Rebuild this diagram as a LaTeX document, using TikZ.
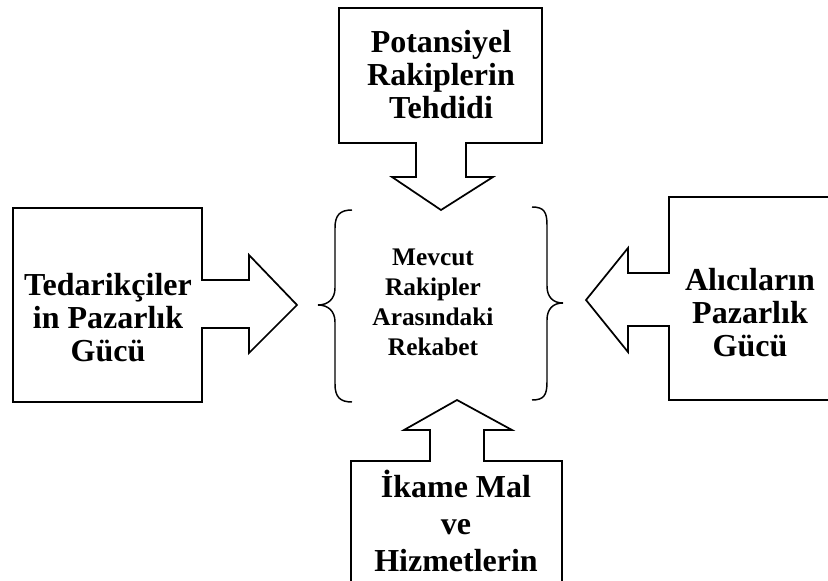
\documentclass[tikz,border=0pt]{standalone}
\usepackage{fontspec}
\setmainfont{Liberation Serif}

\tikzset{
  kutu/.style={line width=1.3pt,line join=miter},
  yazi/.style={font=\fontsize{24}{24.75}\selectfont\bfseries,align=center,inner sep=0pt},
  orta/.style={font=\fontsize{19}{22.5}\selectfont\bfseries,align=center,inner sep=0pt}
}

\begin{document}
\begin{tikzpicture}[x=0.75pt,y=-0.75pt]
         \useasboundingbox (0,0) rectangle (828,581) ;
         %\draw[very thin,gray,step=50] (0,0) grid (828,581) ;
         % ust kutu, asagi ok
         \draw[kutu] (339,8) -- (542,8) -- (542,143) -- (466,143) -- (466,177)
            -- (493,177) -- (441,210) -- (392,177) -- (416,177) -- (416,143)
            -- (339,143) -- cycle ;
         % sol kutu, saga ok
         \draw[kutu] (13,208) -- (202,208) -- (202,280) -- (249,280) -- (249,255)
            -- (297,305) -- (249,353) -- (249,328) -- (202,328) -- (202,402)
            -- (13,402) -- cycle ;
         % sag kutu, sola ok
         \draw[kutu] (828,197) -- (669,197) -- (669,273) -- (628,273) -- (628,248)
            -- (586,300) -- (628,352) -- (628,326) -- (669,326) -- (669,400)
            -- (828,400) ;
         % alt kutu, yukari ok
         \draw[kutu] (351,581) -- (351,461) -- (430,461) -- (430,430) -- (404,430)
            -- (457,400) -- (512,430) -- (484,430) -- (484,461) -- (562,461)
            -- (562,581) ;
         % parantezler
         \draw[line width=1.1pt] (352,210) .. controls (340,210) and (335,215) .. (335,228)
            -- (335,288) .. controls (335,299) and (328,305) .. (318,305)
            .. controls (328,305) and (335,311) .. (335,322)
            -- (335,384) .. controls (335,397) and (340,402) .. (352,402) ;
         \draw[line width=1.1pt] (532,207) .. controls (544,207) and (547,212) .. (547,225)
            -- (547,286) .. controls (547,297) and (553,303) .. (563,303)
            .. controls (553,303) and (547,309) .. (547,320)
            -- (547,382) .. controls (547,395) and (544,400) .. (532,400) ;
         % yazilar
         \node[yazi] (potansiyel) at (441,75) {Potansiyel\\Rakiplerin\\Tehdidi} ;
         \node[yazi] (tedarikci) at (108,318) {Tedarikçiler\\in Pazarlık\\Gücü} ;
         \node[yazi] (alici) at (750,313) {Alıcıların\\Pazarlık\\Gücü} ;
         \node[yazi,font=\fontsize{24}{27.75}\selectfont\bfseries] (ikame) at (456,521)
            {İkame Mal\\ve\\Hizmetlerin} ;
         \node[orta] (rekabet) at (433,302) {Mevcut\\Rakipler\\Arasındaki\\Rekabet} ;
      \end{tikzpicture}
\end{document}
